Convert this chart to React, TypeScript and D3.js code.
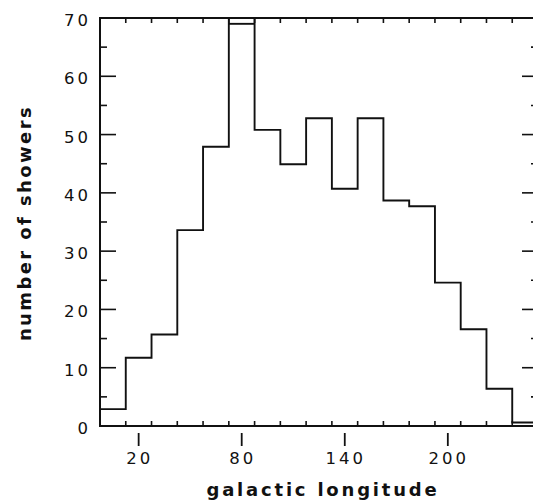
import React from "react";
import * as d3 from "d3";

// ---- data ----
const binStart = -2.5;
const binWidth = 15;
const counts = [2.9, 11.7, 15.7, 33.6, 47.9, 70, 50.8, 44.9, 52.8, 40.7, 52.8, 38.7, 37.7, 24.6, 16.6, 6.4, 0.6];
const peakInner = [{ bin: 5, value: 69 }];
const xLabelTicks = [20, 80, 140, 200];
const yMajorTicks = [0, 10, 20, 30, 40, 50, 60, 70];
const yMinorTicks = [5, 15, 25, 35, 45, 55, 65];
const xTitle = "galactic longitude";
const yTitle = "number of showers";

const W = 533;
const H = 501;
const left = 100, right = 538, top = 18, bottom = 426;

export default function App() {
  const nBins = counts.length;
  const edges = d3.range(nBins + 1).map((i) => binStart + i * binWidth);
  const x = d3.scaleLinear().domain([binStart, binStart + nBins * binWidth]).range([left, right]);
  const y = d3.scaleLinear().domain([0, 70]).range([bottom, top]);

  const pts: [number, number][] = counts.map((c, i) => [edges[i], c]);
  pts.push([edges[nBins], counts[nBins - 1]]);
  const line = d3.line<[number, number]>().x((d) => x(d[0])).y((d) => y(d[1])).curve(d3.curveStepAfter);

  const stroke = "#111";
  const sw = 1.9;
  const inner = edges.slice(1, nBins);

  return (
    <svg width={W} height={H} style={{ position: "absolute", left: 0, top: 0, background: "#fff" }}>
      <rect x={0} y={0} width={W} height={H} fill="#fff" />
      {/* histogram */}
      <path d={line(pts) || ""} fill="none" stroke={stroke} strokeWidth={sw} />
      {peakInner.map((p, i) => (
        <line key={i} x1={x(edges[p.bin])} x2={x(edges[p.bin + 1])} y1={y(p.value)} y2={y(p.value)} stroke={stroke} strokeWidth={sw} />
      ))}
      {/* frame */}
      <rect x={left} y={top} width={right - left} height={bottom - top} fill="none" stroke={stroke} strokeWidth={2} />
      {/* x bin ticks */}
      {inner.map((e, i) => (
        <g key={"xt" + i}>
          <line x1={x(e)} x2={x(e)} y1={bottom} y2={bottom - 5} stroke={stroke} strokeWidth={1.6} />
          <line x1={x(e)} x2={x(e)} y1={top} y2={top + 5} stroke={stroke} strokeWidth={1.6} />
        </g>
      ))}
      {/* x label ticks */}
      {xLabelTicks.map((t) => (
        <g key={"xl" + t}>
          <line x1={x(t)} x2={x(t)} y1={bottom + 7} y2={bottom + 20} stroke={stroke} strokeWidth={1.8} />
          <text x={x(t) + 1} y={bottom + 38} textAnchor="middle" fontFamily="DejaVu Sans, sans-serif" fontSize={16.5} letterSpacing={3} fill={stroke}>
            {t}
          </text>
        </g>
      ))}
      {/* y ticks */}
      {yMajorTicks.map((t) => (
        <g key={"ym" + t}>
          {t > 0 && t < 70 && (
            <>
              <line x1={left} x2={left + 16} y1={y(t)} y2={y(t)} stroke={stroke} strokeWidth={1.6} />
              <line x1={right} x2={right - 16} y1={y(t)} y2={y(t)} stroke={stroke} strokeWidth={1.6} />
            </>
          )}
          <text x={91} y={y(t) + 8} textAnchor="end" fontFamily="DejaVu Sans, sans-serif" fontSize={16.5} letterSpacing={3} fill={stroke}>
            {t}
          </text>
        </g>
      ))}
      {yMinorTicks.map((t) => (
        <g key={"yn" + t}>
          <line x1={left} x2={left + 7} y1={y(t)} y2={y(t)} stroke={stroke} strokeWidth={1.6} />
          <line x1={right} x2={right - 7} y1={y(t)} y2={y(t)} stroke={stroke} strokeWidth={1.6} />
        </g>
      ))}
      {/* titles */}
      <text x={(205 + 441) / 2} y={496} textAnchor="middle" fontFamily="DejaVu Sans, sans-serif" fontWeight="bold" fontSize={18} letterSpacing={2.8} fill={stroke}>
        {xTitle}
      </text>
      <text transform={`translate(31, 223) rotate(-90)`} textAnchor="middle" fontFamily="DejaVu Sans, sans-serif" fontWeight="bold" fontSize={18} letterSpacing={2.4} fill={stroke}>
        {yTitle}
      </text>
    </svg>
  );
}
